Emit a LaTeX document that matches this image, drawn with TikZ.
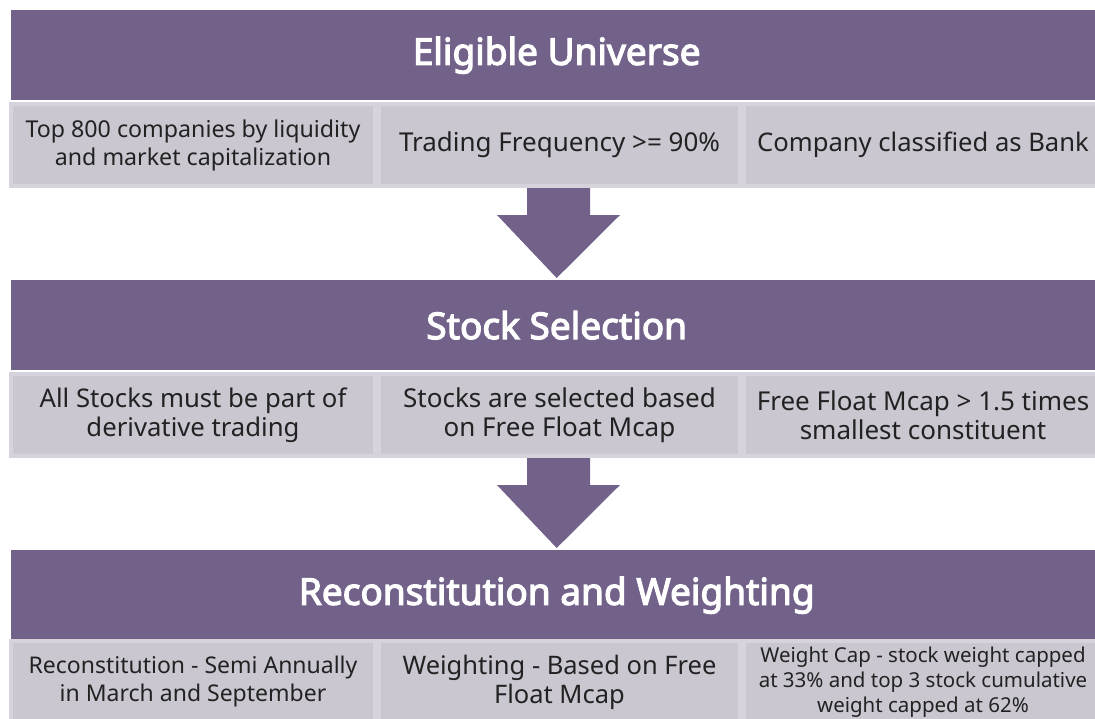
\documentclass[tikz,border=0pt]{standalone}
\usepackage{fontspec}
\setmainfont{Noto Sans}[AutoFakeBold=3.2]
\usetikzlibrary{calc}
\definecolor{hdr}{HTML}{72628A}
\definecolor{cellfill}{HTML}{CAC7D0}
\definecolor{celledge}{HTML}{D6D3DC}
\definecolor{txt}{HTML}{222222}
\begin{document}
\begin{tikzpicture}[x=1pt,y=-1pt,
  header/.style={fill=hdr, text=white, font=\bfseries\fontsize{37}{42}\selectfont,
    anchor=north west, minimum width=1091pt, minimum height=90pt, inner sep=0pt},
  cell/.style={fill=cellfill, draw=celledge, line width=4pt, anchor=north west,
    minimum height=82pt, text=txt, align=center, inner sep=0pt},
  cellA/.style={cell, minimum width=364pt},
  cellB/.style={cell, minimum width=361pt},
  cellC/.style={cell, minimum width=358pt},
  downarrow/.style={fill=hdr, draw=none}
]
\useasboundingbox (0,0) rectangle (1095,718);
\clip (0,0) rectangle (1095,718);
\fill[white] (0,0) rectangle (1095,718);

% Row 1
\node[header] (h1) at (11,10) {Eligible Universe};
\node[cellA, font=\fontsize{23.2}{28}\selectfont] (c11) at (9,102) {Top 800 companies by liquidity\\and market capitalization};
\node[cellB, font=\fontsize{26}{29}\selectfont] (c12) at (377,102) {Trading Frequency >= 90\%};
\node[cellC, font=\fontsize{25.6}{29}\selectfont] (c13) at (742,102) {Company classified as Bank};

% Row 2
\node[header] (h2) at (11,280) {Stock Selection};
\node[cellA, font=\fontsize{25.7}{29}\selectfont] (c21) at (9,372) {All Stocks must be part of\\derivative trading};
\node[cellB, font=\fontsize{26}{29}\selectfont] (c22) at (377,372) {Stocks are selected based\\on Free Float Mcap};
\node[cellC, font=\fontsize{26}{29}\selectfont] (c23) at (742,372) {Free Float Mcap > 1.5 times\\smallest constituent};

% Row 3
\node[header] (h3) at (11,550) {Reconstitution and Weighting};
\node[cellA, font=\fontsize{23}{28}\selectfont] (c31) at (9,639) {Reconstitution - Semi Annually\\in March and September};
\node[cellB, font=\fontsize{25.5}{29}\selectfont] (c32) at (377,639) {Weighting - Based on Free\\Float Mcap};
\node[cellC, font=\fontsize{20.5}{25}\selectfont] (c33) at (742,639) {Weight Cap - stock weight capped\\at 33\% and top 3 stock cumulative\\weight capped at 62\%};

% Arrows
\fill[downarrow] ($(c12.south)+(-32.5,0)$) -- ($(c12.south)+(30.5,0)$) -- ($(c12.south)+(30.5,27)$)
  -- ($(c12.south)+(60.5,27)$) -- ($(h2.north)+(0,-2)$) -- ($(c12.south)+(-62.5,27)$)
  -- ($(c12.south)+(-32.5,27)$) -- cycle;
\fill[downarrow] ($(c22.south)+(-32.5,0)$) -- ($(c22.south)+(30.5,0)$) -- ($(c22.south)+(30.5,27)$)
  -- ($(c22.south)+(60.5,27)$) -- ($(h3.north)+(0,-2)$) -- ($(c22.south)+(-62.5,27)$)
  -- ($(c22.south)+(-32.5,27)$) -- cycle;
\end{tikzpicture}
\end{document}
